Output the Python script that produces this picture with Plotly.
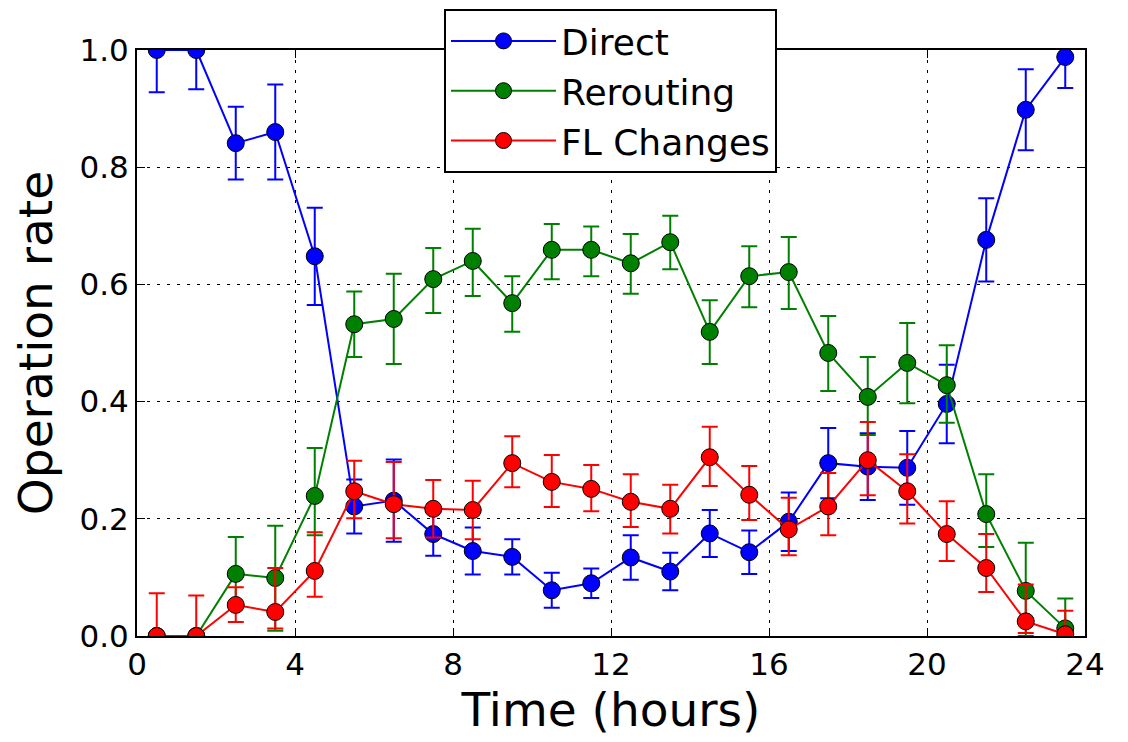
import plotly.graph_objects as go

hours = [h + 0.5 for h in range(24)]

direct = [1.0, 1.0, 0.841, 0.860, 0.648, 0.221, 0.231, 0.174, 0.145, 0.135, 0.078, 0.090,
          0.134, 0.110, 0.175, 0.143, 0.195, 0.295, 0.289, 0.287, 0.396, 0.676, 0.898, 0.988]
direct_err = [0.072, 0.067, 0.062, 0.081, 0.083, 0.046, 0.07, 0.037, 0.04, 0.03, 0.03, 0.025,
              0.038, 0.032, 0.04, 0.037, 0.05, 0.06, 0.057, 0.063, 0.067, 0.071, 0.069, 0.053]

rerouting = [0.0, 0.0, 0.106, 0.099, 0.239, 0.532, 0.541, 0.609, 0.640, 0.568, 0.659, 0.659,
             0.636, 0.672, 0.519, 0.614, 0.621, 0.483, 0.408, 0.466, 0.428, 0.208, 0.077, 0.013]
rerouting_up = [0, 0, 0.063, 0.089, 0.082, 0.056, 0.077, 0.053, 0.055, 0.046, 0.044, 0.04,
                0.05, 0.045, 0.054, 0.051, 0.06, 0.063, 0.068, 0.068, 0.068, 0.068, 0.082, 0.051]
rerouting_dn = [0, 0, 0.05, 0.09, 0.067, 0.056, 0.077, 0.058, 0.06, 0.049, 0.05, 0.045,
                0.052, 0.046, 0.055, 0.053, 0.063, 0.065, 0.065, 0.069, 0.064, 0.056, 0.077, 0.013]

fl_changes = [0.0, 0.0, 0.053, 0.041, 0.111, 0.247, 0.225, 0.217, 0.215, 0.295, 0.263, 0.251,
              0.229, 0.217, 0.305, 0.241, 0.182, 0.221, 0.300, 0.247, 0.174, 0.116, 0.025, 0.003]
fl_up = [0.073, 0.069, 0.03, 0.075, 0.066, 0.052, 0.072, 0.049, 0.05, 0.046, 0.046, 0.041,
         0.047, 0.041, 0.052, 0.049, 0.054, 0.057, 0.065, 0.063, 0.056, 0.058, 0.063, 0.04]
fl_dn = [0, 0, 0.029, 0.028, 0.044, 0.046, 0.058, 0.049, 0.05, 0.041, 0.043, 0.038,
         0.043, 0.042, 0.049, 0.043, 0.044, 0.049, 0.06, 0.055, 0.046, 0.041, 0.02, 0.003]

x_ticks = [0, 4, 8, 12, 16, 20, 24]
y_ticks = [0.0, 0.2, 0.4, 0.6, 0.8, 1.0]

series = [
    ("Direct", direct, direct_err, direct_err, "#0000ff"),
    ("Rerouting", rerouting, rerouting_up, rerouting_dn, "#008000"),
    ("FL Changes", fl_changes, fl_up, fl_dn, "#ff0000"),
]

fig = go.Figure()
for name, vals, up, dn, color in series:
    fig.add_trace(go.Scatter(
        x=hours, y=vals, name=name, mode="lines+markers",
        line=dict(color=color, width=2),
        marker=dict(color=color, size=17, line=dict(color="black", width=1)),
        error_y=dict(type="data", array=up, arrayminus=dn, symmetric=False,
                     color=color, thickness=2, width=8),
        cliponaxis=True,
    ))

font = "DejaVu Sans, sans-serif"
axis_common = dict(
    showline=True, linecolor="black", linewidth=2, mirror="allticks",
    ticks="inside", ticklen=8, tickwidth=1, tickcolor="black",
    showgrid=True, gridcolor="black", griddash="3px,7px", gridwidth=1,
    zeroline=False, tickfont=dict(size=31, color="black", family=font),
)
fig.update_xaxes(range=[0, 24], tickvals=x_ticks, ticktext=[str(t) for t in x_ticks],
                 title=dict(text="Time (hours)", font=dict(size=47, color="black", family=font), standoff=6),
                 **axis_common)
fig.update_yaxes(range=[0, 1], tickvals=y_ticks, ticktext=[f"{t:.1f}" for t in y_ticks],
                 title=dict(text="Operation rate", font=dict(size=47, color="black", family=font), standoff=12),
                 **axis_common)

fig.update_layout(
    width=1128, height=742,
    margin=dict(l=137, r=43, t=50, b=106, autoexpand=False),
    plot_bgcolor="white", paper_bgcolor="white",
    font=dict(family=font, color="black"),
    showlegend=True,
    legend=dict(x=(444 - 137) / 948, y=(636 - 9) / 586, xanchor="left", yanchor="top",
                bgcolor="white", bordercolor="black", borderwidth=2,
                font=dict(size=36, color="black", family=font),
                itemwidth=105, tracegroupgap=0),
)

fig.write_html("out.html")
